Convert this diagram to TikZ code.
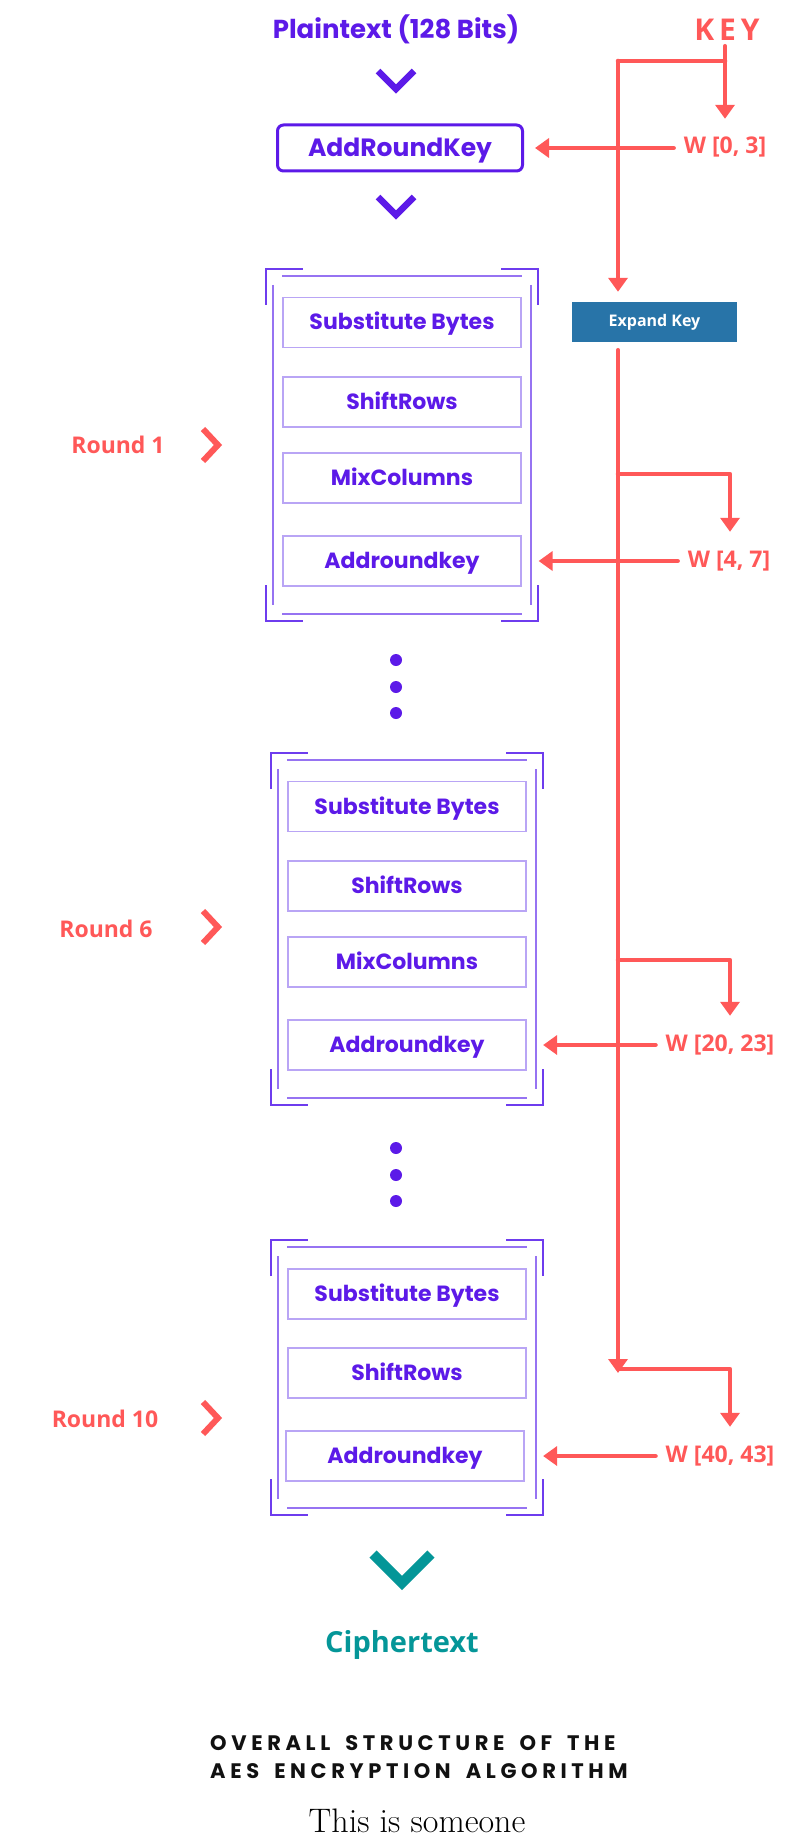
\documentclass[tikz,border=0pt]{standalone}
\usepackage{fontspec}
\newfontfamily\popf{Poppins}
\newfontfamily\osf{Open Sans}
\newfontfamily\keyf{Open Sans}[LetterSpace=16]
\newfontfamily\titf{Poppins}[LetterSpace=22]
\usetikzlibrary{arrows.meta,calc}
\definecolor{aespurple}{RGB}{92,26,232}
\definecolor{framedark}{RGB}{110,60,238}
\definecolor{framelight}{RGB}{150,115,242}
\definecolor{boxline}{RGB}{185,165,245}
\definecolor{aesred}{RGB}{255,88,88}
\definecolor{aesteal}{RGB}{4,150,152}
\definecolor{expandblue}{RGB}{40,116,168}
\definecolor{titleblack}{RGB}{17,17,17}
\newcommand\aesframe[4]{%
  \draw[bracket] (#1,#2+36) -- (#1,#2) -- (#1+37,#2);
  \draw[bracket] (#3-37,#2) -- (#3,#2) -- (#3,#2+36);
  \draw[bracket] (#1,#4-36) -- (#1,#4) -- (#1+37,#4);
  \draw[bracket] (#3-37,#4) -- (#3,#4) -- (#3,#4-36);
  \draw[innerline] (#1+16,#2+7) -- (#3-16,#2+7);
  \draw[innerline] (#1+16,#4-7) -- (#3-16,#4-7);
  \draw[innerline] (#1+7,#2+16) -- (#1+7,#4-16);
  \draw[innerline] (#3-7,#2+16) -- (#3-7,#4-16);
}
\newcommand\tgap{\hspace{6pt}}
\begin{document}
\begin{tikzpicture}[x=1pt,y=-1pt,
  redline/.style={draw=aesred, line width=4.5pt, line cap=round, line join=round},
  redarrow/.style={redline, -{Triangle[width=19pt,length=14pt]}},
  opbox/.style={draw=boxline, line width=1.2pt, minimum width=238pt, minimum height=50pt,
    inner sep=0pt, text height=15pt, text depth=0pt,
    font=\popf\bfseries\fontsize{22}{26}\selectfont, text=aespurple},
  wlabel/.style={font=\osf\bfseries\fontsize{23}{27}\selectfont, text=aesred,
    text height=16pt, text depth=4pt, inner xsep=10pt, inner ysep=19pt},
  roundlabel/.style={font=\osf\bfseries\fontsize{23}{27}\selectfont, text=aesred,
    anchor=base, inner sep=0pt},
  chev/.style={line cap=butt, line join=miter},
  bracket/.style={draw=framedark, line width=2.2pt},
  innerline/.style={draw=framelight, line width=1.5pt},
  dot/.style={fill=aespurple},
  titleline/.style={anchor=base west, inner sep=0pt, font=\titf\bfseries\fontsize{21}{25}\selectfont, text=titleblack}
]
\useasboundingbox (0,0) rectangle (789,1843);

% top
\node[anchor=base, inner sep=0pt, font=\popf\bfseries\fontsize{26}{30}\selectfont, text=aespurple] (plain) at (396,39) {Plaintext (128 Bits)};
\node[anchor=base, inner sep=0pt, font=\keyf\bfseries\fontsize{30}{33}\selectfont, text=aesred] (key) at (727,41) {KEY};
\draw[aespurple, line width=6.5pt, chev] (378,71) -- (396,89) -- (414,71);
\node[draw=aespurple, line width=3pt, rounded corners=6pt, minimum width=245pt, minimum height=46pt,
  inner sep=0pt, text height=18pt, text depth=0pt,
  font=\popf\bfseries\fontsize{25}{29}\selectfont, text=aespurple] (ark0) at (400,148) {AddRoundKey};
\draw[aespurple, line width=6.5pt, chev] (378,197) -- (396,215) -- (414,197);

% round 1
\aesframe{266}{269}{538}{621}
\node[opbox] (sb1) at (402,322.5) {Substitute Bytes};
\node[opbox] (sr1) at (402,402) {ShiftRows};
\node[opbox] (mc1) at (402,478) {MixColumns};
\node[opbox] (ark1) at (402,561) {Addroundkey};
\node[roundlabel] (r1) at (118,453) {Round 1};
\draw[aesred, line width=6pt, chev] (203,429) -- (218,445) -- (203,461);

\fill[dot] (396,660) circle (6pt);
\fill[dot] (396,687) circle (6pt);
\fill[dot] (396,713) circle (6pt);

% round 6
\aesframe{271}{753}{543}{1105}
\node[opbox] (sb6) at (407,806.5) {Substitute Bytes};
\node[opbox] (sr6) at (407,886) {ShiftRows};
\node[opbox] (mc6) at (407,962) {MixColumns};
\node[opbox] (ark6) at (407,1045) {Addroundkey};
\node[roundlabel] (r6) at (106,937) {Round 6};
\draw[aesred, line width=6pt, chev] (203,911) -- (218,927) -- (203,943);

\fill[dot] (396,1148) circle (6pt);
\fill[dot] (396,1175) circle (6pt);
\fill[dot] (396,1201) circle (6pt);

% round 10
\aesframe{271}{1240}{543}{1515}
\node[opbox] (sb10) at (407,1294) {Substitute Bytes};
\node[opbox] (sr10) at (407,1373) {ShiftRows};
\node[opbox] (ark10) at (405,1456) {Addroundkey};
\node[roundlabel] (r10) at (105,1427) {Round 10};
\draw[aesred, line width=6pt, chev] (203,1402) -- (218,1418) -- (203,1434);

% bottom
\draw[aesteal, line width=10pt, chev] (373,1554) -- (402,1583) -- (431,1554);
\node[anchor=base, inner sep=0pt, font=\osf\bfseries\fontsize{29}{34}\selectfont, text=aesteal] (cipher) at (402,1652) {Ciphertext};
\node[titleline] (title1) at (210,1750) {OVERALL\tgap{} STRUCTURE\tgap{} OF\tgap{} THE};
\node[titleline] (title2) at (210,1778) {AES\tgap{} ENCRYPTION\tgap{} ALGORITHM};
\node[anchor=base, inner sep=0pt, font=\fontsize{34}{38}\selectfont] (caption) at (417,1832) {This is someone};

% key schedule
\node[fill=expandblue, minimum width=165pt, minimum height=40pt, inner sep=0pt, text=white,
  font=\osf\bfseries\fontsize{16}{19}\selectfont] (expand) at (654.5,322) {Expand Key};
\node[wlabel] (w03) at (725,148) {W [0, 3]};
\node[wlabel] (w47) at (729,561) {W [4, 7]};
\node[wlabel] (w2023) at (720,1045) {W [20, 23]};
\node[wlabel] (w4043) at (720,1456) {W [40, 43]};

\coordinate (kb) at (725,61);
\coordinate (kt) at (618,61);
\coordinate (b1) at (618,474);
\coordinate (b6) at (618,960);
\coordinate (b10) at (618,1369);
\coordinate (kend) at (618,1373);

\draw[redarrow, shorten <=5pt] (key.south -| w03.north) -- (w03.north);
\draw[redline] (kb) -- (kt);
\draw[redarrow, shorten >=10pt] (kt) -- (kt |- expand.north);
\draw[redarrow, shorten <=8pt] (kt |- expand.south) -- (kend);
\draw[redarrow] (b1) -| ([xshift=1pt]w47.north);
\draw[redarrow] (b6) -| ([xshift=10pt]w2023.north);
\draw[redarrow] (b10) -| ([xshift=10pt]w4043.north);

\draw[redarrow, shorten >=11pt] (w03.west) -- (ark0.east);
\draw[redarrow, shorten >=17pt] (w47.west) -- (ark1.east);
\draw[redarrow, shorten >=16.5pt] (w2023.west) -- (ark6.east);
\draw[redarrow, shorten >=18.5pt] (w4043.west) -- (ark10.east);
\end{tikzpicture}
\end{document}
